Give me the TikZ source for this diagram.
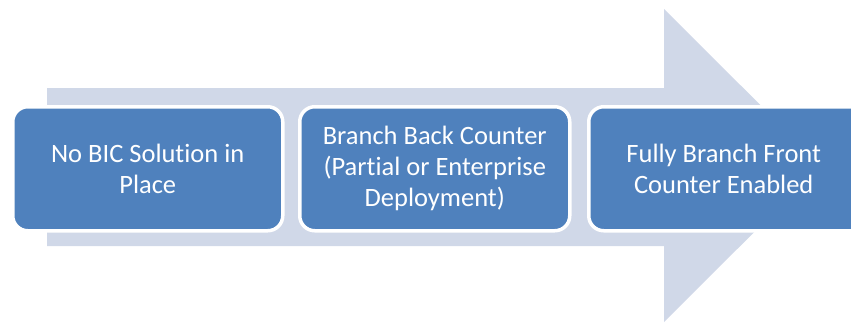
\documentclass[tikz,border=0pt]{standalone}
\usepackage{fontspec}
\setmainfont{Carlito}[Ligatures={NoCommon}]
\definecolor{boxblue}{HTML}{4F81BD}
\definecolor{arrowgrey}{HTML}{D0D8E8}
\begin{document}
\begin{tikzpicture}[x=1pt,y=-1pt,
  stage/.style={draw=white, line width=3.5pt, fill=boxblue, rounded corners=15pt,
    minimum width=270pt, minimum height=124pt, text=white, align=center,
    font=\fontsize{26.5}{31}\selectfont, inner sep=0pt, anchor=north west}]
\useasboundingbox (0,0) rectangle (851,322);
\clip (0,0) rectangle (851,322);
\fill[arrowgrey] (47,88) -- (664,88) -- (664,9) -- (821,165.5) -- (664,322) -- (664,246) -- (47,246) -- cycle;
\node[stage] (s1) at (11,105) {No BIC Solution in\\Place};
\node[stage] (s2) at (298,105) {Branch Back Counter\\(Partial or Enterprise\\Deployment)};
\node[stage, minimum width=285pt] (s3) at (587,105) {\hspace*{-15pt}Fully Branch Front\\\hspace*{-15pt}Counter Enabled};
\end{tikzpicture}
\end{document}
